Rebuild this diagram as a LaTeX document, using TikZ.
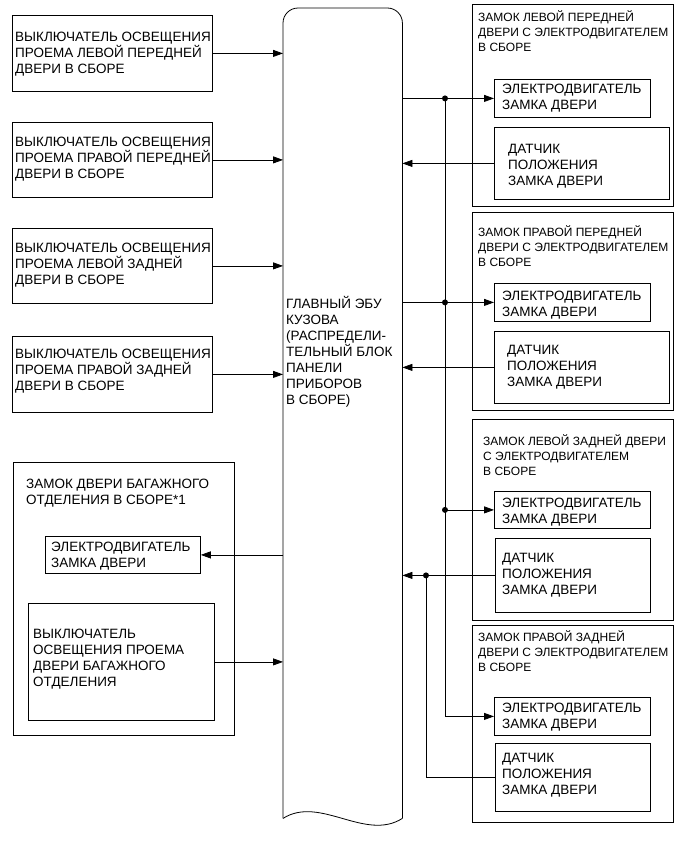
\documentclass[tikz,border=0pt]{standalone}
\usepackage{fontspec}
\setmainfont{Liberation Sans}
\usetikzlibrary{arrows.meta}
\newcommand\mystrut{\rule{0pt}{13.5pt}}
\tikzset{
  box/.style={draw, line width=0.8pt, inner sep=0pt, anchor=north west},
  sz/.style 2 args={minimum width=#1pt, minimum height=#2pt},
  txt/.style={inner sep=0pt, anchor=north west, align=left, yshift=8.67pt, font=\fontsize{13.5}{16}\selectfont},
  hdr/.style={inner sep=0pt, anchor=north west, align=left, yshift=9.2pt, font=\fontsize{12}{15.2}\selectfont},
  ln/.style={line width=0.8pt},
  arr/.style={line width=0.8pt, -{Triangle[length=10pt,width=7pt]}},
  dot/.style={fill, circle, inner sep=0pt, minimum size=6pt}
}
\newcommand\tx[5][txt]{\node[#1] (#2) at (#3,#4) {\mystrut#5};}
\begin{document}
\begin{tikzpicture}[x=1pt,y=-1pt]
\useasboundingbox (0,0) rectangle (691,855);
% central ECU
\node[inner sep=0pt, anchor=north west, sz={119}{810}] (ecu) at (283,8) {};
\draw[ln, rounded corners=15pt] (ecu.south west) -- (ecu.north west) -- (ecu.north east) -- (ecu.south east);
\draw[ln] (ecu.south east) .. controls (365,842) and (320,795) .. (ecu.south west);
\tx{ecut}{286}{303}{ГЛАВНЫЙ ЭБУ\\КУЗОВА\\(РАСПРЕДЕЛИ-\\ТЕЛЬНЫЙ БЛОК\\ПАНЕЛИ\\ПРИБОРОВ\\В СБОРЕ)}
% left switches
\node[box, sz={200}{76}] (l1) at (12,15) {};
\node[box, sz={200}{75}] (l2) at (12,122) {};
\node[box, sz={200}{75}] (l3) at (12,228) {};
\node[box, sz={200}{76}] (l4) at (12,336) {};
\tx{l1t}{15}{36}{ВЫКЛЮЧАТЕЛЬ ОСВЕЩЕНИЯ\\ПРОЕМА ЛЕВОЙ ПЕРЕДНЕЙ\\ДВЕРИ В СБОРЕ}
\tx{l2t}{15}{141}{ВЫКЛЮЧАТЕЛЬ ОСВЕЩЕНИЯ\\ПРОЕМА ПРАВОЙ ПЕРЕДНЕЙ\\ДВЕРИ В СБОРЕ}
\tx{l3t}{15}{247}{ВЫКЛЮЧАТЕЛЬ ОСВЕЩЕНИЯ\\ПРОЕМА ЛЕВОЙ ЗАДНЕЙ\\ДВЕРИ В СБОРЕ}
\tx{l4t}{15}{353}{ВЫКЛЮЧАТЕЛЬ ОСВЕЩЕНИЯ\\ПРОЕМА ПРАВОЙ ЗАДНЕЙ\\ДВЕРИ В СБОРЕ}
\foreach \n in {l1,l2,l3,l4} \draw[arr] (\n.east) -- (\n.east -| ecu.west);
% trunk
\node[box, sz={221}{273}] (tr) at (13,462) {};
\tx{trt}{26}{483}{ЗАМОК ДВЕРИ БАГАЖНОГО\\ОТДЕЛЕНИЯ В СБОРЕ*1}
\node[box, sz={155}{37}] (tm) at (45,536) {};
\tx{tmt}{51}{546}{ЭЛЕКТРОДВИГАТЕЛЬ\\ЗАМКА ДВЕРИ}
\node[box, sz={186}{117}] (ts) at (28,603) {};
\tx{tst}{33}{633}{ВЫКЛЮЧАТЕЛЬ\\ОСВЕЩЕНИЯ ПРОЕМА\\ДВЕРИ БАГАЖНОГО\\ОТДЕЛЕНИЯ}
\draw[arr] (tm.east -| ecu.west) -- (tm.east);
\draw[arr] (ts.east) -- (ts.east -| ecu.west);
% right door locks
\node[box, sz={201}{202}] (r1) at (472,4) {};
\node[box, sz={201}{198}] (r2) at (472,212) {};
\node[box, sz={201}{201}] (r3) at (472,419) {};
\node[box, sz={201}{197}] (r4) at (472,625) {};
\tx[hdr]{r1t}{478}{17}{ЗАМОК ЛЕВОЙ ПЕРЕДНЕЙ\\ДВЕРИ С ЭЛЕКТРОДВИГАТЕЛЕМ\\В СБОРЕ}
\tx[hdr]{r2t}{478}{232}{ЗАМОК ПРАВОЙ ПЕРЕДНЕЙ\\ДВЕРИ С ЭЛЕКТРОДВИГАТЕЛЕМ\\В СБОРЕ}
\tx[hdr]{r3t}{483}{441}{ЗАМОК ЛЕВОЙ ЗАДНЕЙ ДВЕРИ\\С ЭЛЕКТРОДВИГАТЕЛЕМ\\В СБОРЕ}
\tx[hdr]{r4t}{478}{637}{ЗАМОК ПРАВОЙ ЗАДНЕЙ\\ДВЕРИ С ЭЛЕКТРОДВИГАТЕЛЕМ\\В СБОРЕ}
% motors
\node[box, sz={156}{38}] (m1) at (494,79) {};
\node[box, sz={156}{38}] (m2) at (494,283) {};
\node[box, sz={156}{37}] (m3) at (494,491) {};
\node[box, sz={156}{38}] (m4) at (494,697) {};
\tx{m1t}{502}{88}{ЭЛЕКТРОДВИГАТЕЛЬ\\ЗАМКА ДВЕРИ}
\tx{m2t}{502}{295}{ЭЛЕКТРОДВИГАТЕЛЬ\\ЗАМКА ДВЕРИ}
\tx{m3t}{502}{502}{ЭЛЕКТРОДВИГАТЕЛЬ\\ЗАМКА ДВЕРИ}
\tx{m4t}{502}{707}{ЭЛЕКТРОДВИГАТЕЛЬ\\ЗАМКА ДВЕРИ}
% sensors
\node[box, sz={175}{72}] (s1) at (494,127) {};
\node[box, sz={175}{72}] (s2) at (494,331) {};
\node[box, sz={155}{74}] (s3) at (495,538) {};
\node[box, sz={155}{68}] (s4) at (495,743) {};
\tx{s1t}{508}{148}{ДАТЧИК\\ПОЛОЖЕНИЯ\\ЗАМКА ДВЕРИ}
\tx{s2t}{507}{349}{ДАТЧИК\\ПОЛОЖЕНИЯ\\ЗАМКА ДВЕРИ}
\tx{s3t}{502}{557}{ДАТЧИК\\ПОЛОЖЕНИЯ\\ЗАМКА ДВЕРИ}
\tx{s4t}{502}{757}{ДАТЧИК\\ПОЛОЖЕНИЯ\\ЗАМКА ДВЕРИ}
% buses
\coordinate (busA) at (445,0);
\coordinate (busB) at (426,0);
\draw[arr] (m1.west -| ecu.east) -- (m1.west);
\draw[arr] (m2.west -| ecu.east) -- (m2.west);
\draw[arr] (busA |- m3.west) -- (m3.west);
\draw[ln] (busA |- m1.west) -- (busA |- m4.west);
\draw[arr] (busA |- m4.west) -- (m4.west);
\node[dot] (d1) at (busA |- m1.west) {};
\node[dot] (d2) at (busA |- m2.west) {};
\node[dot] (d3) at (busA |- m3.west) {};
\draw[arr] (s1.west) -- (s1.west -| ecu.east);
\draw[arr] (s2.west) -- (s2.west -| ecu.east);
\draw[arr] (s3.west) -- (s3.west -| ecu.east);
\draw[ln] (s4.west) -| (busB |- s3.west);
\node[dot] (d4) at (busB |- s3.west) {};
\end{tikzpicture}
\end{document}
